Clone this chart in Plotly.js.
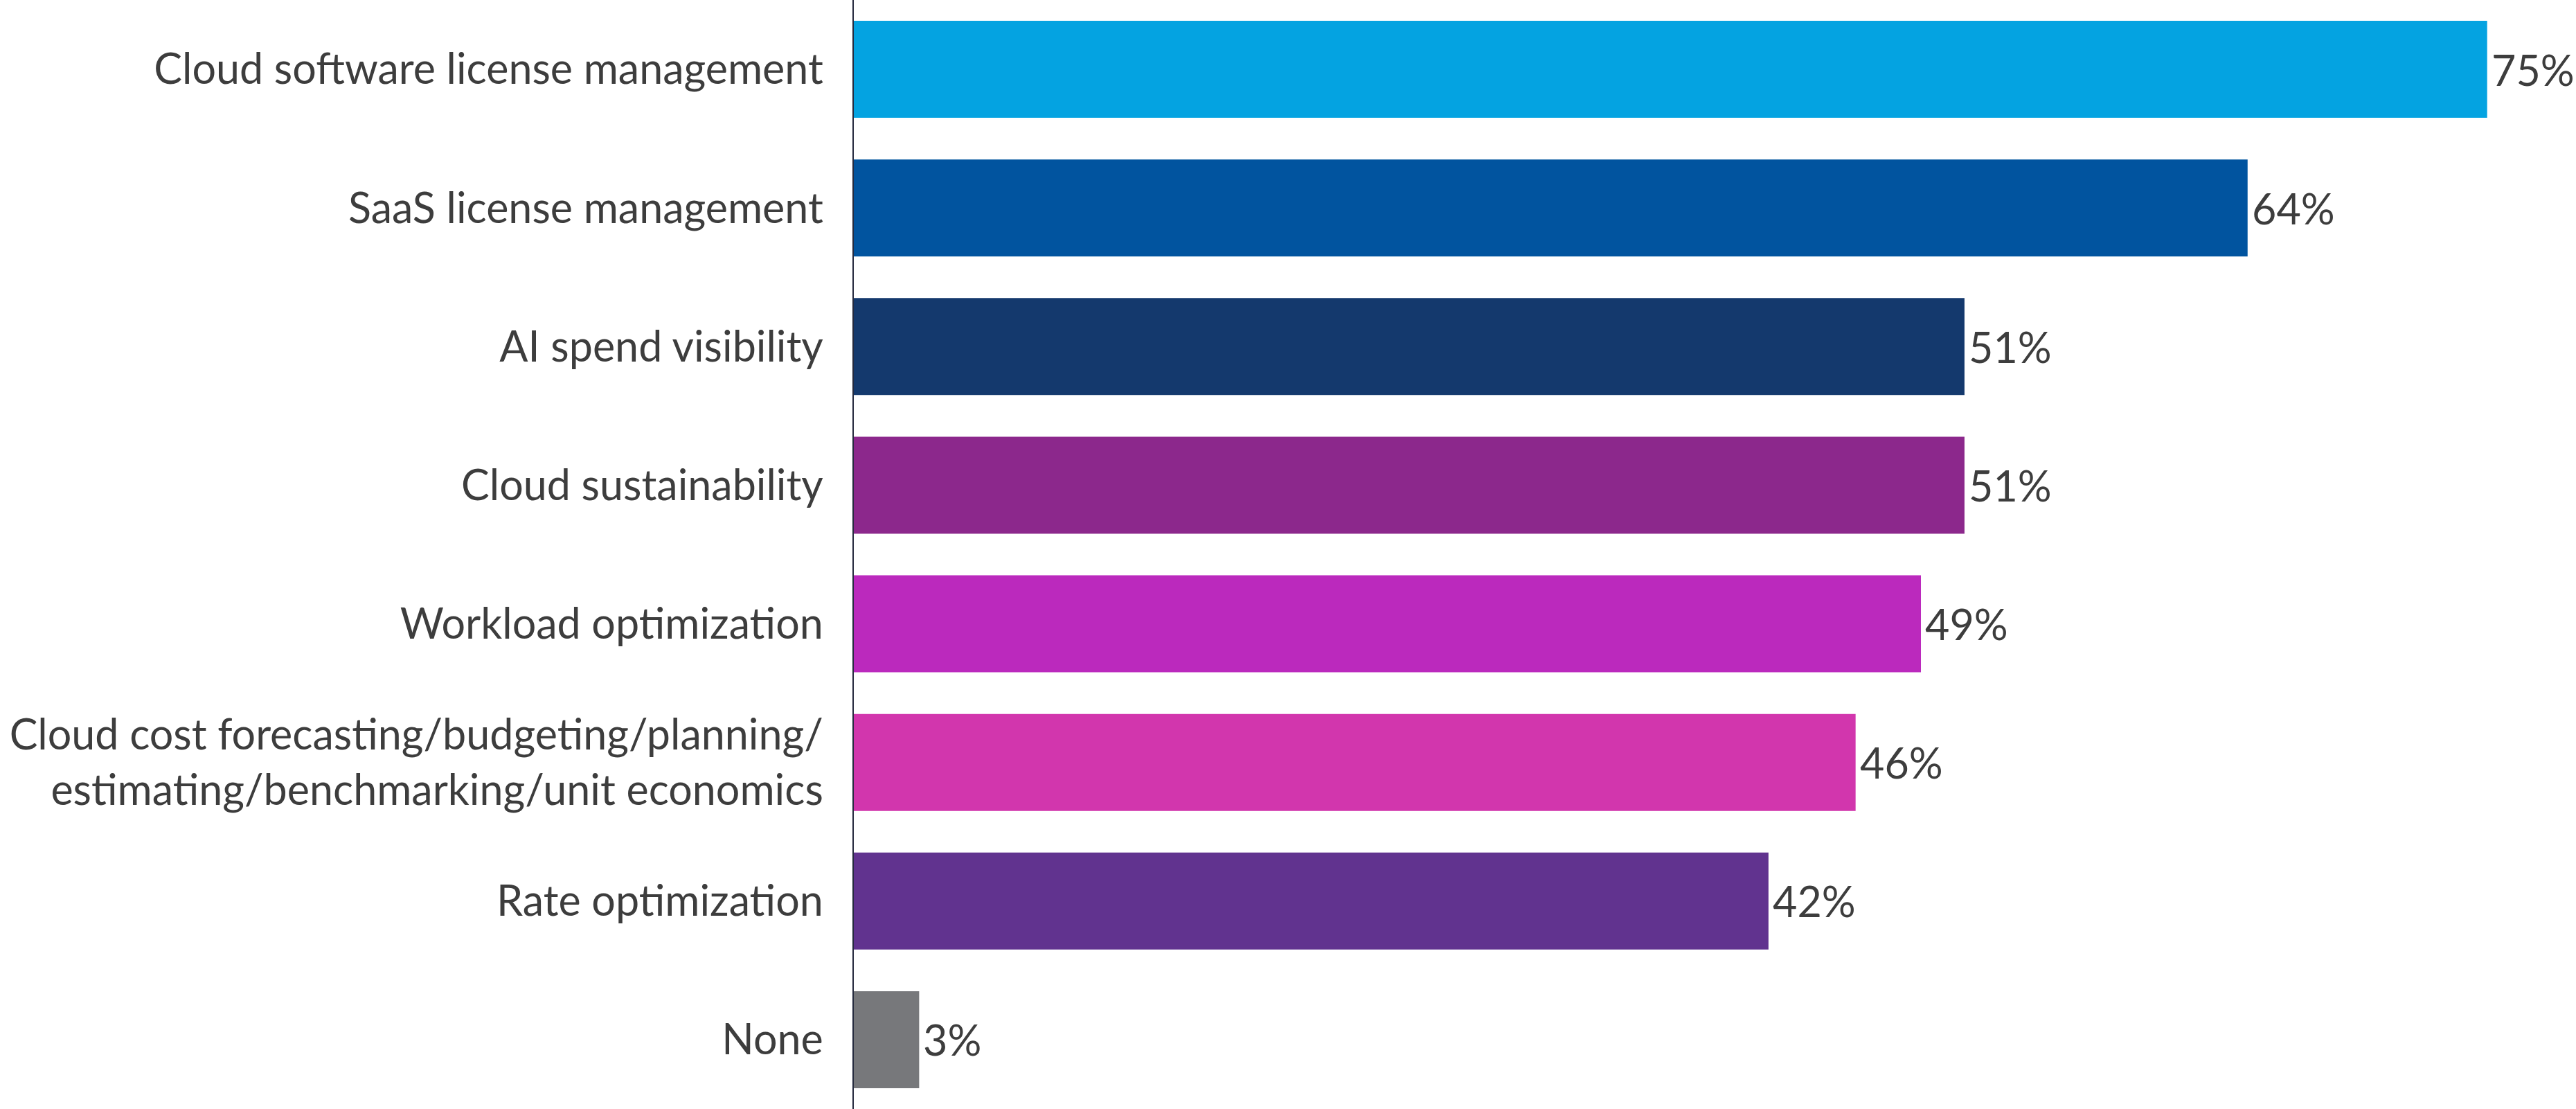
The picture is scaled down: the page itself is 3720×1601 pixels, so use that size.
<!DOCTYPE html>
<html>
<head>
<meta charset="utf-8">
<script src="https://cdn.plot.ly/plotly-3.0.1.min.js"></script>
<style>
  html, body { margin: 0; padding: 0; background: #ffffff; }
  #chart { width: 3720px; height: 1601px; }
</style>
</head>
<body>
<div id="chart"></div>
<script>
// Capabilities reported, share of respondents (%)
const categories = [
  "Cloud software license management",
  "SaaS license management",
  "AI spend visibility",
  "Cloud sustainability",
  "Workload optimization",
  "Cloud cost forecasting/budgeting/planning/<br>estimating/benchmarking/unit economics",
  "Rate optimization",
  "None"
];
const values = [75, 64, 51, 51, 49, 46, 42, 3];
const barColors = [
  "#04a3e1", "#01549f", "#14396d", "#8c288c",
  "#bb29bd", "#d236ad", "#61338f", "#77787b"
];

const FONT = "Lato, 'Source Sans Pro', 'Open Sans', sans-serif";
const TEXT_COLOR = "#3d3d3d";
const FONT_SIZE = 61;

const trace = {
  type: "bar",
  orientation: "h",
  x: values,
  y: categories,
  marker: { color: barColors, line: { width: 0 } },
  hoverinfo: "skip"
};

// Percent labels just past the end of each bar
const valueLabels = values.map((v, i) => ({
  x: v,
  y: categories[i],
  xref: "x",
  yref: "y",
  text: v + "%",
  showarrow: false,
  xanchor: "left",
  yanchor: "middle",
  xshift: 4,
  font: { family: FONT, size: FONT_SIZE, color: TEXT_COLOR }
}));

const layout = {
  width: 3720,
  height: 1601,
  margin: { l: 1233, r: 0, t: 0, b: 0, pad: 0 },
  paper_bgcolor: "#ffffff",
  plot_bgcolor: "#ffffff",
  bargap: 0.3,
  showlegend: false,
  xaxis: {
    range: [0, 79.08],
    visible: false,
    showgrid: false,
    zeroline: false
  },
  yaxis: {
    type: "category",
    autorange: false,
    range: [7.5, -0.5],
    showline: true,
    linecolor: "#24293d",
    linewidth: 2,
    showgrid: false,
    zeroline: false,
    ticks: "",
    ticklabelstandoff: 30,
    tickfont: { family: FONT, size: FONT_SIZE, color: TEXT_COLOR }
  },
  annotations: valueLabels
};

Plotly.newPlot("chart", [trace], layout, { staticPlot: true, displayModeBar: false });
</script>
</body>
</html>
